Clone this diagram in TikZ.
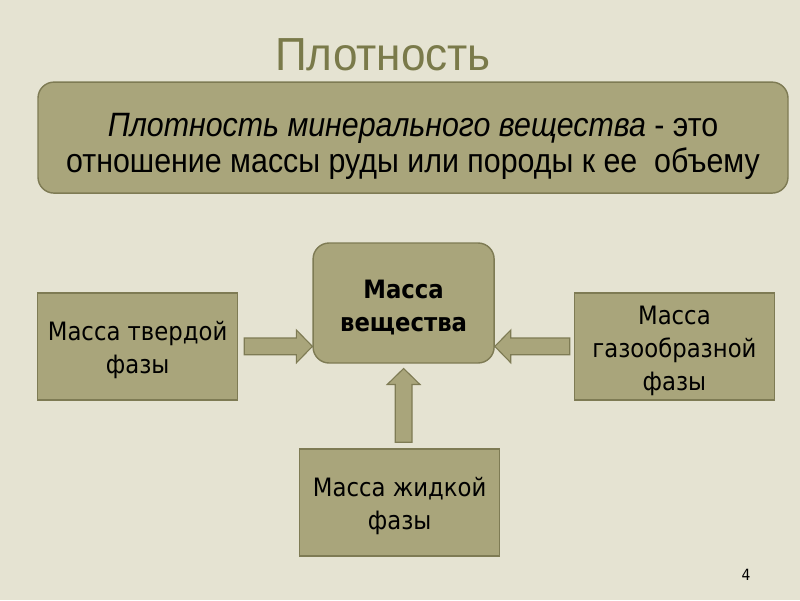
\documentclass[tikz,border=0pt]{standalone}
\usepackage{fontspec}
\setmainfont[FakeStretch=0.9]{DejaVu Sans}
\newfontfamily\narrowfont[FakeStretch=0.9]{Liberation Sans}
\newfontfamily\titlefont[FakeStretch=0.95]{Liberation Sans}
\usepackage{tikz}
\usetikzlibrary{calc}
\definecolor{slidebg}{HTML}{E5E3D2}
\definecolor{olivefill}{HTML}{A9A57B}
\definecolor{olivedraw}{HTML}{7E7B54}
\definecolor{titleolive}{HTML}{7A7A4A}

% invisible strut that pushes the text a little down
\newcommand{\lift}[1]{\rule{0pt}{#1}}

% block arrow from #1 to #2
\newcommand{\blockarrow}[2]{%
  \coordinate (ba) at (#1); \coordinate (bt) at (#2);
  \coordinate (bh) at ($(bt)!0.4cm!(ba)$);
  \draw[arrowbody] ($(ba)!0.21cm!90:(bt)$) -- ($(bh)!0.21cm!-90:(ba)$) -- ($(bh)!0.41cm!-90:(ba)$)
    -- (bt) -- ($(bh)!0.41cm!90:(ba)$) -- ($(bh)!0.21cm!90:(ba)$) -- ($(ba)!0.21cm!-90:(bt)$) -- cycle;}

\begin{document}
\begin{tikzpicture}[
    phasebox/.style={draw=olivedraw, fill=olivefill, line width=1pt, minimum width=5cm, minimum height=2.675cm, align=center, font=\fontsize{18}{23.5}\selectfont, inner sep=2pt},
    arrowbody/.style={draw=olivedraw, fill=olivefill, line width=0.8pt, line join=miter}
]
\fill[slidebg] (0,0) rectangle (20,-15);
\useasboundingbox (0,0) rectangle (20,-15);

\node[text=titleolive, font=\titlefont\fontsize{33}{36}\selectfont] (title) at (9.575,-1.375) {Плотность};
\node[phasebox, rounded corners=0.4cm, minimum width=18.75cm, minimum height=2.775cm, font=\narrowfont\fontsize{24}{26}\selectfont] (def) at (10.325,-3.44)
    {\lift{29pt}\textit{Плотность минерального вещества} - это\\отношение массы руды или породы к ее\ \ объему};

\node[phasebox, rounded corners=0.4cm, minimum width=4.525cm, minimum height=3cm, font=\bfseries\fontsize{18}{23.5}\selectfont] (mass) at (10.09,-7.575) {\lift{19pt}Масса\\вещества};
\node[phasebox] (solid) at (3.44,-8.66) {\lift{19pt}Масса твердой\\фазы};
\node[phasebox] (gas) at (16.86,-8.66) {\lift{19pt}Масса\\газообразной\\фазы};
\node[phasebox] (liquid) at (9.99,-12.56) {\lift{19pt}Масса жидкой\\фазы};

\blockarrow{$(solid.east)+(0.15,0)$}{solid.east -| mass.west}
\blockarrow{$(gas.west)+(-0.1,0)$}{gas.west -| mass.east}
\blockarrow{$(mass.south |- liquid.north)+(0,0.15)$}{$(mass.south)+(0,-0.12)$}

\node[font=\fontsize{11}{13}\selectfont] (pagenum) at (18.65,-14.375) {4};
\end{tikzpicture}
\end{document}
